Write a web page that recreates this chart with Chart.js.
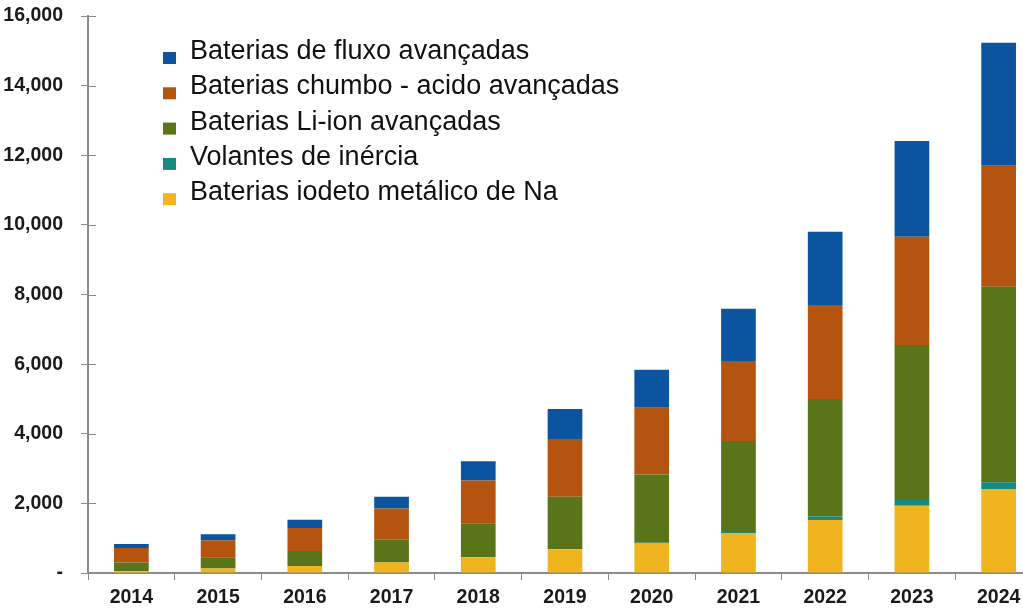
<!DOCTYPE html>
<html>
<head>
<meta charset="utf-8">
<script src="https://cdn.jsdelivr.net/npm/chart.js@4/dist/chart.umd.min.js"></script>
<style>
  html, body { margin: 0; padding: 0; background: #fff; overflow: hidden; }
  #wrap { width: 1042px; height: 614px; position: relative; }
</style>
</head>
<body>
<div id="wrap"><canvas id="chart" width="1042" height="614"></canvas></div>
<script>
// anos e valores (MW)
var anos = ['2014', '2015', '2016', '2017', '2018', '2019', '2020', '2021', '2022', '2023', '2024'];
var iodeto_na = [50, 130, 200, 300, 450, 680, 850, 1150, 1520, 1930, 2410];
var volantes  = [0, 0, 0, 0, 0, 10, 20, 30, 100, 170, 200];
var li_ion    = [250, 320, 430, 660, 980, 1500, 1960, 2610, 3380, 4450, 5610];
var chumbo    = [420, 490, 660, 890, 1230, 1660, 1920, 2300, 2700, 3110, 3480];
var fluxo     = [110, 170, 240, 340, 550, 860, 1090, 1500, 2100, 2750, 3530];
var y_ticks_max = 16000;
var y_ticks_step = 2000;

var axis_color = '#8a8a8a';
var tick_font = { family: 'Liberation Sans, Arial, sans-serif', size: 19.5, weight: 'bold' };

// legenda desenhada dentro da area do grafico (ordem invertida: topo da pilha primeiro)
var legenda_interna = {
    id: 'legenda_interna',
    afterDraw: function(chart) {
        var ctx = chart.ctx;
        var ds = chart.data.datasets.slice().reverse();
        ctx.save();
        ctx.font = '27px "Liberation Sans", Arial, sans-serif';
        ctx.textBaseline = 'alphabetic';
        ctx.textAlign = 'left';
        ds.forEach(function(d, i) {
            var y = 52 + i * 35.3;
            ctx.fillStyle = d.backgroundColor;
            ctx.fillRect(163, y, 13, 12);
            ctx.fillStyle = '#111';
            ctx.fillText(d.label, 190, y + 7);
        });
        ctx.restore();
    }
};

// marcas do eixo y que atravessam o eixo (parte interna)
var marcas_y = {
    id: 'marcas_y',
    beforeDatasetsDraw: function(chart) {
        var ctx = chart.ctx;
        var y = chart.scales.y;
        ctx.save();
        ctx.strokeStyle = axis_color;
        ctx.lineWidth = 1;
        y.ticks.forEach(function(t) {
            if (t.value === 0) return;
            var py = Math.round(y.getPixelForValue(t.value)) + 0.5;
            ctx.beginPath();
            ctx.moveTo(chart.chartArea.left, py);
            ctx.lineTo(chart.chartArea.left + 8, py);
            ctx.stroke();
        });
        ctx.restore();
    }
};

var chart = new Chart(document.getElementById('chart').getContext('2d'), {
    type: 'bar',
    data: {
        labels: anos,
        datasets: [
            { label: 'Baterias iodeto metálico de Na', data: iodeto_na, backgroundColor: '#efb41e' },
            { label: 'Volantes de inércia', data: volantes, backgroundColor: '#178a7e' },
            { label: 'Baterias Li-ion avançadas', data: li_ion, backgroundColor: '#5a7419' },
            { label: 'Baterias chumbo - acido avançadas', data: chumbo, backgroundColor: '#b4540f' },
            { label: 'Baterias de fluxo avançadas', data: fluxo, backgroundColor: '#0b549f' }
        ]
    },
    options: {
        responsive: false,
        animation: false,
        layout: { padding: { top: 16, right: 0, left: 0, bottom: 0 } },
        datasets: { bar: { barPercentage: 0.4, categoryPercentage: 1.0, borderWidth: 0 } },
        plugins: {
            legend: { display: false },
            tooltip: { enabled: false }
        },
        scales: {
            x: {
                stacked: true,
                grid: { display: true, drawOnChartArea: false, offset: true, color: axis_color, tickLength: 7, lineWidth: 1 },
                border: { display: true, color: axis_color, width: 2 },
                ticks: { color: '#1a1a1a', font: tick_font, padding: 6, maxRotation: 0 },
                afterFit: function(scale) { scale.height = 41; }
            },
            y: {
                stacked: true,
                min: 0,
                max: y_ticks_max,
                grid: { display: true, drawOnChartArea: false, color: axis_color, tickLength: 7, lineWidth: 1 },
                border: { display: true, color: axis_color, width: 2 },
                ticks: {
                    stepSize: y_ticks_step,
                    color: '#1a1a1a',
                    font: tick_font,
                    padding: 18,
                    callback: function(v) { return v === 0 ? '-' : v.toLocaleString('en-US'); }
                },
                afterFit: function(scale) {
                    scale.width = 88;
                    scale.paddingTop = 0;
                    scale.paddingBottom = 0;
                }
            }
        }
    },
    plugins: [legenda_interna, marcas_y]
});
</script>
</body>
</html>
